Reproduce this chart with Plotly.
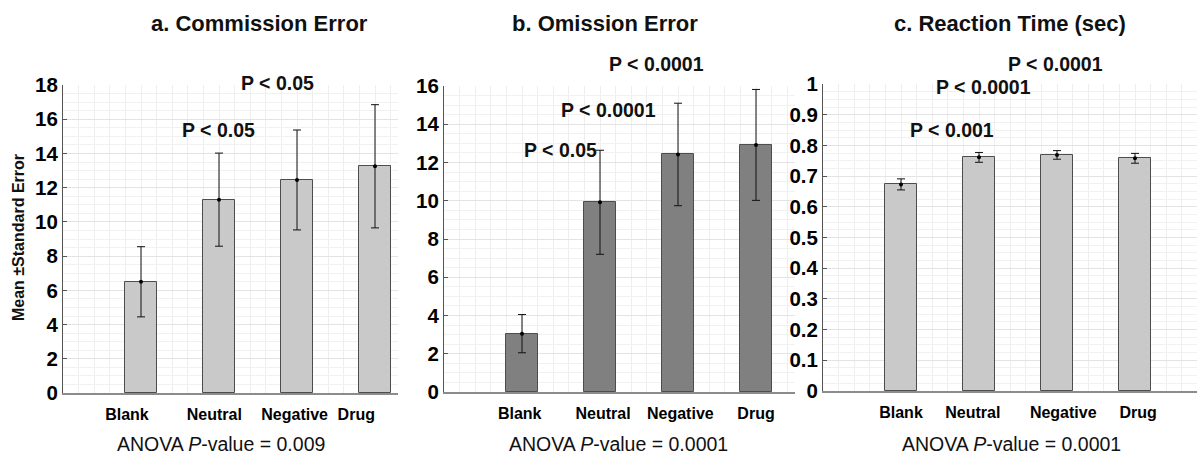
import plotly.graph_objects as go

# ---------------- data ----------------
categories = ["Blank", "Neutral", "Negative", "Drug"]

commission_mean = [6.5, 11.3, 12.45, 13.25]
commission_se = [2.05, 2.72, 2.92, 3.6]

omission_mean = [3.05, 9.92, 12.42, 12.92]
omission_se = [1.0, 2.72, 2.68, 2.9]

rt_mean = [0.673, 0.761, 0.769, 0.758]
rt_se = [0.018, 0.016, 0.014, 0.016]

panel_titles = ["a. Commission Error", "b. Omission Error", "c. Reaction Time (sec)"]
anova_p = ["0.009", "0.0001", "0.0001"]
pair_p_a = ["P < 0.05", "P < 0.05"]
pair_p_b = ["P < 0.05", "P < 0.0001", "P < 0.0001"]
pair_p_c = ["P < 0.001", "P < 0.0001", "P < 0.0001"]
y_title = "Mean ±Standard Error"

# ---------------- layout helpers ----------------
W, H = 1200, 459
FONT = "Liberation Sans"


def PX(x):
    return x / W


def PY(y):
    return 1 - y / H


xpos = [i + 1 for i in range(len(categories))]

panels = [
    dict(mean=commission_mean, se=commission_se, color="#c9c9c9",
         xdom=(63, 398), ydom=(393, 85), yrange=(0, 18), dtick=2, unit=78,
         shift=[-0.18, -0.06, -0.03, -0.24]),
    dict(mean=omission_mean, se=omission_se, color="#808080",
         xdom=(444, 795), ydom=(392, 86), yrange=(0, 16), dtick=2, unit=78,
         shift=[-0.03, 0.04, 0.03, 0.0]),
    dict(mean=rt_mean, se=rt_se, color="#c9c9c9",
         xdom=(823, 1197), ydom=(391, 84), yrange=(0, 1), dtick=0.1, unit=78,
         shift=[0.0, -0.08, 0.08, 0.04]),
]

fig = go.Figure()
layout = dict(
    width=W, height=H, autosize=False,
    margin=dict(l=0, r=0, t=0, b=0, pad=0, autoexpand=False),
    paper_bgcolor="white", plot_bgcolor="white",
    showlegend=False, bargap=0,
    font=dict(family=FONT, color="black"),
)

for i, p in enumerate(panels):
    s = "" if i == 0 else str(i + 1)
    xa, ya = "x" + s, "y" + s
    fig.add_trace(go.Bar(
        x=xpos, y=p["mean"], width=0.4, xaxis=xa, yaxis=ya,
        marker=dict(color=p["color"], line=dict(color="#4d4d4d", width=1)),
        error_y=dict(type="data", array=p["se"], visible=True, color="#111111",
                     thickness=1, width=4),
        hoverinfo="skip",
    ))
    fig.add_trace(go.Scatter(
        x=xpos, y=p["mean"], mode="markers", xaxis=xa, yaxis=ya,
        marker=dict(color="black", size=4), hoverinfo="skip",
    ))
    x0, x1 = p["xdom"]
    xr = (x1 - x0) / p["unit"]
    layout["xaxis" + s] = dict(
        domain=[PX(x0), PX(x1)], range=[0, xr], anchor=ya, automargin=False,
        tickmode="array",
        tickvals=[v + d for v, d in zip(xpos, p["shift"])],
        ticktext=categories,
        tickfont=dict(family=FONT, size=16, color="black", weight="bold"),
        ticks="", ticklabelstandoff=6,
        showgrid=False, zeroline=False,
        showline=True, linecolor="#8c8c8c", linewidth=1.5,
        minor=dict(tickmode="linear", tick0=0, dtick=0.2, showgrid=True,
                   gridcolor="#eeeeee", gridwidth=1, ticks=""),
        fixedrange=True,
    )
    yb, yt = p["ydom"]
    layout["yaxis" + s] = dict(
        domain=[PY(yb), PY(yt)], range=list(p["yrange"]), anchor=xa, automargin=False,
        dtick=p["dtick"], tick0=0,
        tickfont=dict(family=FONT, size=20.5, color="black", weight="bold"),
        ticks="inside", ticklen=4, tickcolor="#555555",
        showline=True, linecolor="#555555", linewidth=1,
        showgrid=True, gridcolor="#e4e4e4", gridwidth=1,
        zeroline=False,
        minor=dict(dtick=p["dtick"] / 4, showgrid=True, gridcolor="#f1f1f1",
                   gridwidth=1, ticks=""),
        fixedrange=True,
    )

annotations = []

# panel titles
for t, cx in zip(panel_titles, [259, 605, 1010]):
    annotations.append(dict(text=t, x=PX(cx), y=PY(23), xref="paper", yref="paper",
                            showarrow=False, xanchor="center", yanchor="middle",
                            font=dict(family=FONT, size=22, color="#111111", weight="bold")))

# ANOVA footers
for pv, cx in zip(anova_p, [221, 618, 1011]):
    annotations.append(dict(text="ANOVA <i>P</i>-value = " + pv, x=PX(cx), y=PY(444),
                            xref="paper", yref="paper", showarrow=False,
                            xanchor="center", yanchor="middle",
                            font=dict(family=FONT, size=19.5, color="#111111")))

# pairwise p-value labels
pair_pos_a = [(218, 130), (277, 83)]
pair_pos_b = [(560, 150), (608, 110), (656, 64)]
pair_pos_c = [(952, 130), (984, 87), (1055, 64)]
for texts, poss in [(pair_p_a, pair_pos_a), (pair_p_b, pair_pos_b), (pair_p_c, pair_pos_c)]:
    for t, (cx, cy) in zip(texts, poss):
        annotations.append(dict(text=t, x=PX(cx), y=PY(cy), xref="paper", yref="paper",
                                showarrow=False, xanchor="center", yanchor="middle",
                                font=dict(family=FONT, size=19.5, color="#111111", weight="bold")))

# y-axis title
annotations.append(dict(text=y_title, x=PX(18), y=PY(238), xref="paper", yref="paper",
                        showarrow=False, textangle=-90, xanchor="center", yanchor="middle",
                        font=dict(family=FONT, size=16, color="#111111", weight="bold")))

layout["annotations"] = annotations
fig.update_layout(**layout)

page_fix = (
    "document.documentElement.style.margin='0';"
    "document.body.style.margin='0';document.body.style.padding='0';"
    "document.body.style.overflow='hidden';"
)
fig.write_html("out.html", config={"displayModeBar": False, "responsive": False},
               post_script=page_fix)
